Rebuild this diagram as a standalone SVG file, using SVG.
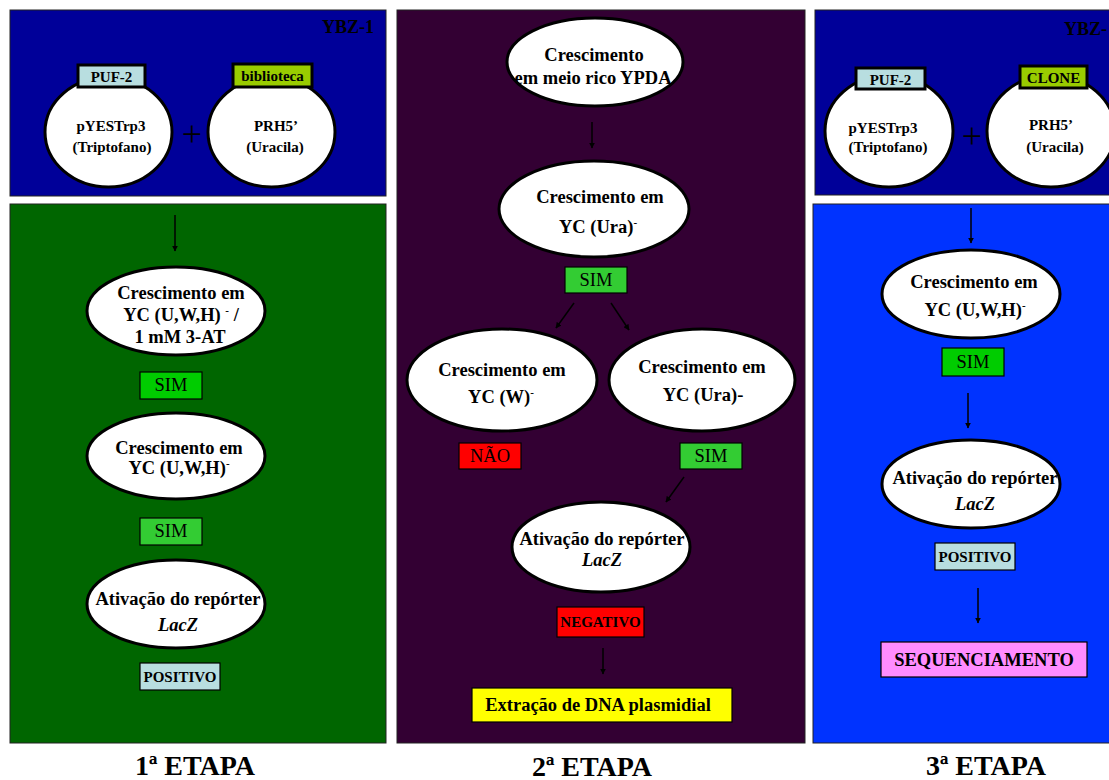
<svg xmlns="http://www.w3.org/2000/svg" width="1109" height="780" viewBox="0 0 1109 780">
<defs>
<style>
.t{font-family:"Liberation Serif","Times New Roman",serif;font-weight:bold;fill:#000;text-anchor:middle}
.r{font-family:"Liberation Serif","Times New Roman",serif;font-weight:normal;fill:#000;text-anchor:middle}
.e{fill:#fff;stroke:#000;stroke-width:3}
.lb{stroke:#000;stroke-width:3}
.bx{stroke:#000;stroke-width:1.2}
.pn{stroke:#222;stroke-width:1}
.c{stroke:#000;stroke-width:1.5;fill:none;marker-end:url(#ah)}
.f18{font-size:18.5px}
.f15{font-size:15px}
.sup{font-size:11px}
</style>
<marker id="ah" viewBox="0 0 10 10" refX="9" refY="5" markerWidth="6" markerHeight="6" orient="auto" markerUnits="userSpaceOnUse">
<path d="M0,0 L10,5 L0,10 z" fill="#000"/>
</marker>
</defs>
<rect width="1109" height="780" fill="#fff"/>

<g id="panels">
<rect class="pn" x="10" y="10" width="376" height="186" fill="#000099"/>
<rect class="pn" x="10" y="204" width="376" height="539" fill="#006600"/>
<rect class="pn" x="397" y="10" width="408" height="733" fill="#330033"/>
<rect class="pn" x="815" y="10" width="300" height="185" fill="#000099"/>
<rect class="pn" x="813" y="204" width="300" height="539" fill="#0033FF"/>
</g>

<g id="p1-top">
<text class="t" x="348" y="33" font-size="18">YBZ-1</text>
<g id="p1-c1">
<ellipse class="e" cx="108.5" cy="132" rx="63.5" ry="55"/>
<rect class="lb" x="78" y="65" width="67" height="22" fill="#B8DEE0"/>
<text class="t f15" x="111.5" y="82">PUF-2</text>
<text class="t f15" x="111" y="131">pYESTrp3</text>
<text class="t f15" x="112" y="152">(Triptofano)</text>
</g>
<text class="r" x="192" y="146" font-size="36">+</text>
<g id="p1-c2">
<ellipse class="e" cx="271.5" cy="132" rx="63.5" ry="55"/>
<rect class="lb" x="233" y="64" width="79" height="23" fill="#99CC00"/>
<text class="t f15" x="272.5" y="81">biblioteca</text>
<text class="t f15" x="276" y="131">PRH5’</text>
<text class="t f15" x="275" y="152">(Uracila)</text>
</g>
</g>

<g id="p1-n1">
<ellipse class="e" cx="176" cy="311" rx="89" ry="44"/>
<text class="t f18" x="181" y="299">Crescimento em</text>
<text class="t f18" x="181" y="321">YC (U,W,H) <tspan class="sup" dy="-7">-</tspan><tspan dy="7"> /</tspan></text>
<text class="t f18" x="180" y="343">1 mM 3-AT</text>
</g>
<g id="p1-sim1">
<rect class="bx" x="140" y="372" width="62" height="27" fill="#00CC00"/>
<text class="r f18" x="171" y="391">SIM</text>
</g>
<g id="p1-n2">
<ellipse class="e" cx="176" cy="456" rx="89" ry="43"/>
<text class="t f18" x="179" y="454">Crescimento em</text>
<text class="t f18" x="179" y="474">YC (U,W,H)<tspan class="sup" dy="-7">-</tspan></text>
</g>
<g id="p1-sim2">
<rect class="bx" x="140" y="518" width="62" height="27" fill="#33CC33"/>
<text class="r f18" x="171" y="537">SIM</text>
</g>
<g id="p1-n3">
<ellipse class="e" cx="176" cy="604" rx="89" ry="44"/>
<text class="t f18" x="178" y="605">Ativação do repórter</text>
<text class="t f18" x="178" y="631" font-style="italic">LacZ</text>
</g>
<g id="p1-pos">
<rect class="bx" x="140" y="663" width="80" height="27" fill="#B8DEE0"/>
<text class="t f15" x="180" y="682">POSITIVO</text>
</g>
<text class="t" x="195" y="775" font-size="28">1ª ETAPA</text>

<g id="p2-n1">
<ellipse class="e" cx="595" cy="62" rx="88" ry="44"/>
<text class="t f18" x="594" y="61">Crescimento</text>
<text class="t f18" x="593" y="84">em meio rico YPDA</text>
</g>
<g id="p2-n2">
<ellipse class="e" cx="594" cy="209" rx="95" ry="48"/>
<text class="t f18" x="600" y="203">Crescimento em</text>
<text class="t f18" x="598" y="233">YC (Ura)<tspan class="sup" dy="-7">-</tspan></text>
</g>
<g id="p2-sim1">
<rect class="bx" x="565" y="267" width="62" height="26" fill="#33CC33"/>
<text class="r f18" x="596" y="286">SIM</text>
</g>
<g id="p2-n3">
<ellipse class="e" cx="502" cy="380" rx="95" ry="51"/>
<text class="t f18" x="502" y="376">Crescimento em</text>
<text class="t f18" x="501" y="403">YC (W)<tspan class="sup" dy="-7">-</tspan></text>
</g>
<g id="p2-n4">
<ellipse class="e" cx="702" cy="380" rx="93" ry="51"/>
<text class="t f18" x="702" y="373">Crescimento em</text>
<text class="t f18" x="703" y="401">YC (Ura)-</text>
</g>
<g id="p2-nao">
<rect class="bx" x="459" y="443" width="62" height="26" fill="#FF0000"/>
<text class="r f18" x="490" y="462">NÃO</text>
</g>
<g id="p2-sim2">
<rect class="bx" x="680" y="443" width="62" height="26" fill="#33CC33"/>
<text class="r f18" x="711" y="462">SIM</text>
</g>
<g id="p2-n5">
<ellipse class="e" cx="601" cy="547" rx="89" ry="45"/>
<text class="t f18" x="602" y="545">Ativação do repórter</text>
<text class="t f18" x="602" y="566" font-style="italic">LacZ</text>
</g>
<g id="p2-neg">
<rect class="bx" x="557" y="607" width="87" height="30" fill="#FF0000"/>
<text class="t f15" x="600.5" y="627">NEGATIVO</text>
</g>
<g id="p2-dna">
<rect class="bx" x="472" y="688" width="260" height="34" fill="#FFFF00"/>
<text class="t f18" x="598" y="711">Extração de DNA plasmidial</text>
</g>
<text class="t" x="592" y="776" font-size="28">2ª ETAPA</text>

<g id="p3-top">
<text class="t" x="1064" y="35" font-size="18" style="text-anchor:start">YBZ-</text>
<g id="p3-c1">
<ellipse class="e" cx="889" cy="131" rx="64" ry="56"/>
<rect class="lb" x="856" y="68" width="69" height="21" fill="#B8DEE0"/>
<text class="t f15" x="890.5" y="85">PUF-2</text>
<text class="t f15" x="883" y="133">pYESTrp3</text>
<text class="t f15" x="888" y="152">(Triptofano)</text>
</g>
<text class="r" x="972" y="148" font-size="36">+</text>
<g id="p3-c2">
<ellipse class="e" cx="1051" cy="131" rx="64" ry="56"/>
<rect class="lb" x="1020" y="66" width="67" height="22" fill="#99CC00"/>
<text class="t f15" x="1053.5" y="83">CLONE</text>
<text class="t f15" x="1051" y="130">PRH5’</text>
<text class="t f15" x="1055" y="152">(Uracila)</text>
</g>
</g>

<g id="p3-n1">
<ellipse class="e" cx="971" cy="294" rx="89" ry="44"/>
<text class="t f18" x="974" y="288">Crescimento em</text>
<text class="t f18" x="975" y="316">YC (U,W,H)<tspan class="sup" dy="-7">-</tspan></text>
</g>
<g id="p3-sim">
<rect class="bx" x="942" y="348" width="62" height="28" fill="#00CC00"/>
<text class="r f18" x="973" y="368">SIM</text>
</g>
<g id="p3-n2">
<ellipse class="e" cx="971" cy="484" rx="89" ry="44"/>
<text class="t f18" x="975" y="484">Ativação do repórter</text>
<text class="t f18" x="975" y="510" font-style="italic">LacZ</text>
</g>
<g id="p3-pos">
<rect class="bx" x="935" y="543" width="80" height="27" fill="#B8DEE0"/>
<text class="t f15" x="975" y="562">POSITIVO</text>
</g>
<g id="p3-seq">
<rect class="bx" x="881" y="642" width="206" height="35" fill="#FF8CFF"/>
<text class="t f18" x="984" y="666">SEQUENCIAMENTO</text>
</g>
<text class="t" x="986" y="775" font-size="28">3ª ETAPA</text>

<g id="connectors">
<line class="c" x1="175" y1="215" x2="175" y2="251"/>
<line class="c" x1="592" y1="122" x2="592" y2="148"/>
<line class="c" x1="574" y1="303" x2="556" y2="328"/>
<line class="c" x1="611" y1="303" x2="629" y2="330"/>
<line class="c" x1="684" y1="477" x2="666" y2="502"/>
<line class="c" x1="603" y1="648" x2="603" y2="674"/>
<line class="c" x1="971" y1="208" x2="971" y2="243"/>
<line class="c" x1="968" y1="393" x2="968" y2="428"/>
<line class="c" x1="978" y1="588" x2="978" y2="623"/>
</g>
</svg>
